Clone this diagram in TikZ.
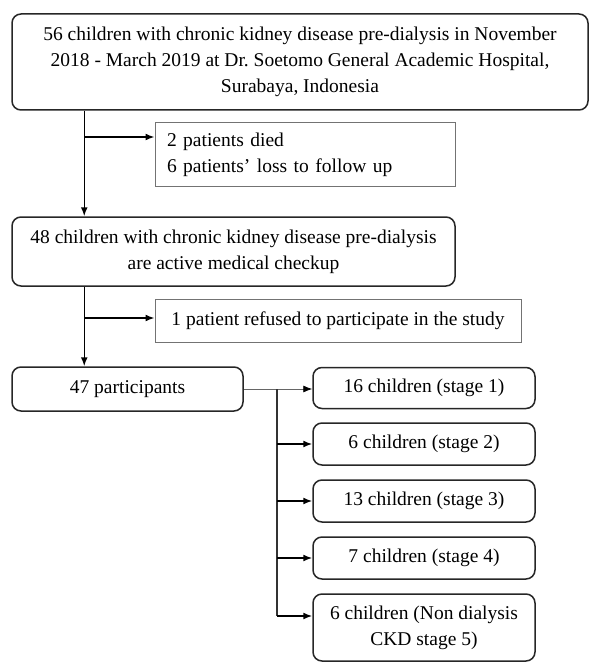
\documentclass[tikz,border=0pt]{standalone}
\usepackage{fontspec}
\setmainfont{Liberation Serif}
\usetikzlibrary{arrows.meta}

\begin{document}
\begin{tikzpicture}[x=1pt,y=-1pt,>={Latex[length=9pt,width=7pt]},
        rbox/.style={draw=black!85, line width=1.5pt, rounded corners=9pt, align=center, inner sep=0pt},
        sbox/.style={draw=black!55, line width=1pt, inner sep=0pt},
        arr/.style={->, line width=1.5pt},
        font=\fontsize{19.5}{26}\selectfont]
            % fix the page size
            \useasboundingbox (0,0) rectangle (589,663);

            % draw the main column
            \node[rbox, minimum width=576pt, minimum height=96pt] (all) at (300,62)
                {56 children with chronic kidney disease pre-dialysis in November\\
                 2018 - March 2019 at Dr.\ Soetomo General Academic Hospital,\\
                 Surabaya, Indonesia};
            \node[rbox, minimum width=443pt, minimum height=69pt] (active) at (233.5,251.5)
                {48 children with chronic kidney disease pre-dialysis\\
                 are active medical checkup};
            \node[rbox, minimum width=231pt, minimum height=44pt] (part) at (127.5,389)
                {47 participants};

            % draw the boxes of the excluded
            \node[sbox, minimum width=300pt, minimum height=63pt, align=left, text width=276pt] (lost) at (305,154.5)
                {2 patients died\\6 patients' loss to follow up};
            \node[sbox, minimum width=366pt, minimum height=43pt] (refused) at (338,320.5)
                {1 patient refused to participate in the study};

            % draw the stages
            \node[rbox, minimum width=222pt, minimum height=41pt] (st1) at (424,388) {16 children (stage 1)};
            \node[rbox, minimum width=222pt, minimum height=42pt] (st2) at (424,444) {6 children (stage 2)};
            \node[rbox, minimum width=222pt, minimum height=42pt] (st3) at (424,501) {13 children (stage 3)};
            \node[rbox, minimum width=222pt, minimum height=42pt] (st4) at (424,558) {7 children (stage 4)};
            \node[rbox, minimum width=222pt, minimum height=67pt] (st5) at (424,627.5)
                {6 children (Non dialysis\\CKD stage 5)};

            % the main column arrows
            \draw[arr] ([xshift=73pt]all.south west) -- ([xshift=73pt]active.north west);
            \draw[arr] ([xshift=73pt]active.south west) -- ([xshift=73pt]part.north west);

            % branch to the excluded
            \coordinate (b1) at (85,137);
            \coordinate (b2) at (85,318);
            \draw[arr] (b1) -- (b1 -| lost.west);
            \draw[arr] (b2) -- (b2 -| refused.west);

            % split into the stages
            \coordinate (fork) at (277,389);
            \coordinate (b5) at (277,616);
            \draw[-{Latex[length=9pt,width=7pt,color=black]}, line width=0.8pt, draw=black!60] (part.east) -- (part.east -| st1.west);
            \draw[line width=1.1pt, draw=black!80] (fork) -- (b5);
            \draw[arr] (fork |- st2.west) -- (st2.west);
            \draw[arr] (fork |- st3.west) -- (st3.west);
            \draw[arr] (fork |- st4.west) -- (st4.west);
            \draw[arr] (b5) -- (b5 -| st5.west);
\end{tikzpicture}
\end{document}
